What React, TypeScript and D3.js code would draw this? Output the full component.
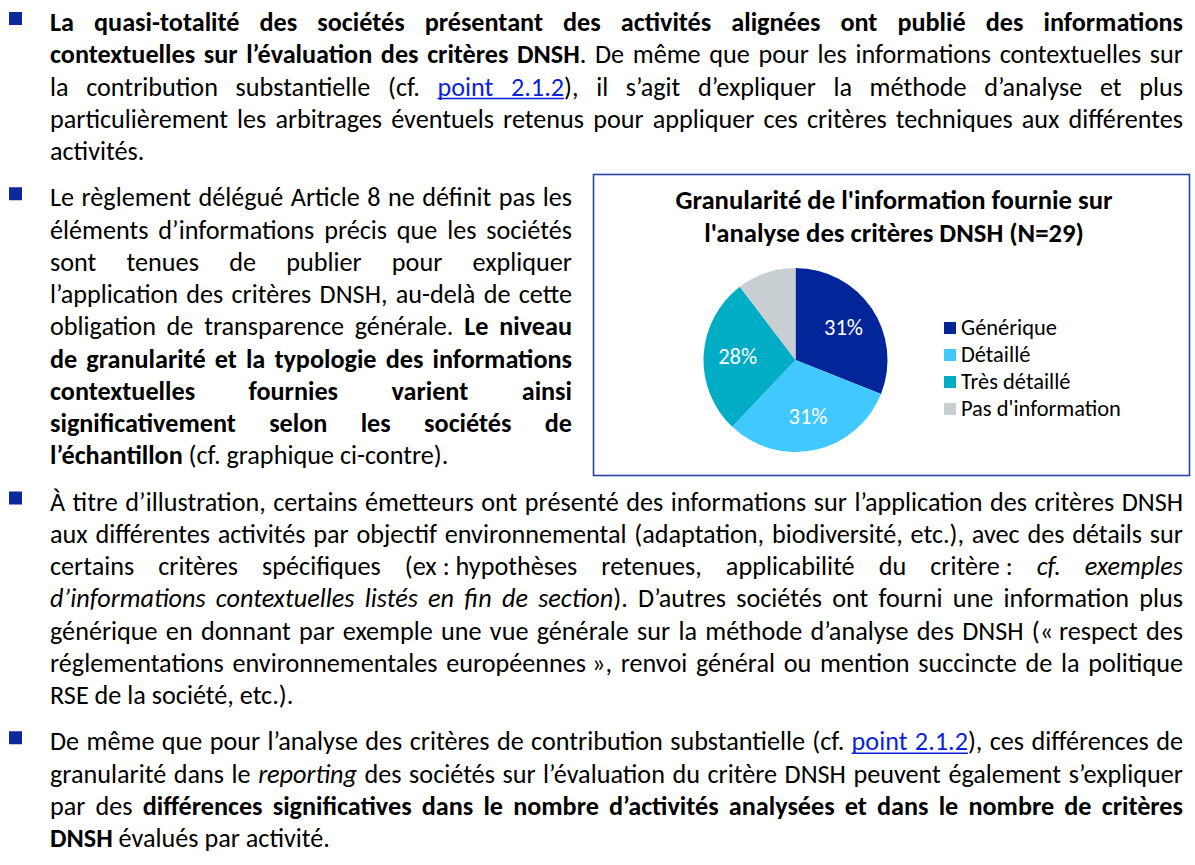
import React, { useMemo } from "react";
import * as d3 from "d3";

// pie data (N = 29 sociétés)
const categories = ["Générique", "Détaillé", "Très détaillé", "Pas d'information"];
const counts = [9, 9, 8, 3];
const sliceLabels = ["31%", "31%", "28%", ""];
const sliceColors = ["#02259a", "#40c8ff", "#00adc5", "#c8cfd3"];
const chartTitle = [
  "Granularité de l'information fournie sur",
  "l'analyse des critères DNSH (N=29)",
];

// page text: **bold**, _italic_, [link]
const para1 = [
  "**La quasi-totalité des sociétés présentant des activités alignées ont publié des informations**",
  "**contextuelles sur l’évaluation des critères DNSH**. De même que pour les informations contextuelles sur",
  "la contribution substantielle (cf. [point 2.1.2]), il s’agit d’expliquer la méthode d’analyse et plus",
  "particulièrement les arbitrages éventuels retenus pour appliquer ces critères techniques aux différentes",
  "activités.",
];
const para2 = [
  "Le règlement délégué Article 8 ne définit pas les",
  "éléments d’informations précis que les sociétés",
  "sont tenues de publier pour expliquer",
  "l’application des critères DNSH, au-delà de cette",
  "obligation de transparence générale. **Le niveau**",
  "**de granularité et la typologie des informations**",
  "**contextuelles fournies varient ainsi**",
  "**significativement selon les sociétés de**",
  "**l’échantillon** (cf. graphique ci-contre).",
];
const para3 = [
  "À titre d’illustration, certains émetteurs ont présenté des informations sur l’application des critères DNSH",
  "aux différentes activités par objectif environnemental (adaptation, biodiversité, etc.), avec des détails sur",
  "certains critères spécifiques (ex\u00a0:\u00a0hypothèses retenues, applicabilité du critère\u00a0: _cf. exemples_",
  "_d’informations contextuelles listés en fin de section_). D’autres sociétés ont fourni une information plus",
  "générique en donnant par exemple une vue générale sur la méthode d’analyse des DNSH («\u00a0respect des",
  "réglementations environnementales européennes\u00a0», renvoi général ou mention succincte de la politique",
  "RSE de la société, etc.).",
];
const para4 = [
  "De même que pour l’analyse des critères de contribution substantielle (cf. [point 2.1.2]), ces différences de",
  "granularité dans le _reporting_ des sociétés sur l’évaluation du critère DNSH peuvent également s’expliquer",
  "par des **différences significatives dans le nombre d’activités analysées et dans le nombre de critères**",
  "**DNSH** évalués par activité.",
];

const FONT = "Carlito, Lato, sans-serif";
const LINK = "#0a1fe0";
const BULLET = "#0b2b9c";

type Seg = { t: string; b: boolean; i: boolean; u: boolean };

function parseLine(line: string): Seg[][] {
  const words: Seg[][] = [];
  let word: Seg[] = [];
  let b = false, it = false, u = false;
  const push = (ch: string) => {
    const last = word[word.length - 1];
    if (last && last.b === b && last.i === it && last.u === u) last.t += ch;
    else word.push({ t: ch, b, i: it, u });
  };
  for (let k = 0; k < line.length; k++) {
    const c = line[k];
    if (c === "*" && line[k + 1] === "*") { b = !b; k++; continue; }
    if (c === "_") { it = !it; continue; }
    if (c === "[") { u = true; continue; }
    if (c === "]") { u = false; continue; }
    if (c === " ") { if (word.length) words.push(word); word = []; continue; }
    push(c);
  }
  if (word.length) words.push(word);
  return words;
}

export default function App() {
  const W = 1195, H = 865;

  const layout = useMemo(() => {
    const ctx = document.createElement("canvas").getContext("2d")!;
    const measure = (t: string, b: boolean, i: boolean, fs: number) => {
      ctx.font = `${i ? "italic " : ""}${b ? "bold" : "normal"} ${fs}px ${FONT}`;
      return ctx.measureText(t).width;
    };
    const fit = (t: string, b: boolean, target: number) => (100 * target) / measure(t, b, false, 100);

    const fs = fit("Le règlement délégué Article 8 ne définit pas les", false, 510);
    const LINE = 32.25, GAP = 14, LEFT = 50;
    const paragraphs = [
      { lines: para1, right: 1183 },
      { lines: para2, right: 572 },
      { lines: para3, right: 1183 },
      { lines: para4, right: 1183 },
    ];
    const segs: any[] = [];
    const unders: any[] = [];
    const bullets: number[] = [];
    let y = 31;
    paragraphs.forEach((p) => {
      bullets.push(y);
      p.lines.forEach((line, li) => {
        const words = parseLine(line);
        const ws = words.map((w) => w.map((s) => measure(s.t, s.b, s.i, fs)));
        const total = d3.sum(ws, (w) => d3.sum(w));
        const n = words.length - 1;
        const space = measure(" ", false, false, fs);
        const justify = li < p.lines.length - 1;
        let gap = justify && n > 0 ? (p.right - LEFT - total) / n : space;
        let k = 1;
        const minGap = space * 0.6;
        if (gap < minGap) {
          gap = minGap;
          k = (p.right - LEFT - minGap * n) / total;
        }
        let x = LEFT;
        let open = false;
        words.forEach((w, wi) => {
          w.forEach((s, si) => {
            const sw = ws[wi][si] * k;
            segs.push({ ...s, x, y, w: sw, scaled: k < 1 });
            if (s.u) {
              if (open) unders[unders.length - 1].x1 = x + sw;
              else unders.push({ x0: x, x1: x + sw, y });
            }
            open = s.u;
            x += sw;
          });
          x += gap;
        });
        y += LINE;
      });
      y += GAP;
    });

    const titleFs = (fit(chartTitle[0], true, 437) + fit(chartTitle[1], true, 380)) / 2;
    const legendFs = fit("Pas d'information", false, 160);
    const labelFs = fit("28%", false, 39);
    return { fs, segs, unders, bullets, titleFs, legendFs, labelFs };
  }, []);

  const cx = 795.5, cy = 360, R = 92;
  const arcs = d3.pie<number>().sort(null).value((d) => d)(counts);
  const arc = d3.arc<d3.PieArcDatum<number>>().innerRadius(0).outerRadius(R);
  const labelArc = d3.arc<d3.PieArcDatum<number>>().innerRadius(R * 0.63).outerRadius(R * 0.63);
  const legendY = d3.scalePoint<string>().domain(categories).range([328, 409]);

  return (
    <svg
      width={W}
      height={H}
      style={{ position: "absolute", left: 0, top: 0, background: "#fff" }}
      fontFamily={FONT}
    >
      <rect x={0} y={0} width={W} height={H} fill="#fff" />
      {layout.bullets.map((by, i) => (
        <rect key={"b" + i} x={9} y={by - 19} width={13} height={13} fill={BULLET} />
      ))}
      {layout.segs.map((s: any, i: number) => (
        <text
          key={"s" + i}
          x={s.x}
          y={s.y}
          fontSize={layout.fs}
          fontWeight={s.b ? "bold" : "normal"}
          fontStyle={s.i ? "italic" : "normal"}
          fill={s.u ? LINK : "#000"}
          textLength={s.scaled ? s.w : undefined}
          lengthAdjust={s.scaled ? "spacingAndGlyphs" : undefined}
        >
          {s.t}
        </text>
      ))}
      {layout.unders.map((u: any, i: number) => (
        <line key={"u" + i} x1={u.x0} x2={u.x1} y1={u.y + 3} y2={u.y + 3} stroke={LINK} strokeWidth={1.3} />
      ))}

      {/* chart box */}
      <rect x={593.5} y={174.5} width={596} height={301} fill="#fff" stroke="#2443a6" strokeWidth={1.6} />
      {chartTitle.map((t, i) => (
        <text key={"t" + i} x={894} y={209 + i * 33} textAnchor="middle" fontWeight="bold" fontSize={layout.titleFs} fill="#000">
          {t}
        </text>
      ))}
      <g transform={`translate(${cx},${cy})`}>
        {arcs.map((a, i) => (
          <path key={"p" + i} d={arc(a) || ""} fill={sliceColors[i]} />
        ))}
        {arcs.map((a, i) => {
          const [lx, ly] = labelArc.centroid(a);
          return sliceLabels[i] ? (
            <text key={"l" + i} x={lx} y={ly + layout.labelFs * 0.33} textAnchor="middle" fill="#fff" fontSize={layout.labelFs}>
              {sliceLabels[i]}
            </text>
          ) : null;
        })}
      </g>
      {categories.map((c, i) => {
        const ly = legendY(c)!;
        return (
          <g key={"g" + i}>
            <rect x={944} y={ly - 6} width={12} height={12} fill={sliceColors[i]} />
            <text x={961} y={ly + layout.legendFs * 0.33} fontSize={layout.legendFs} fill="#000">
              {c}
            </text>
          </g>
        );
      })}
    </svg>
  );
}
